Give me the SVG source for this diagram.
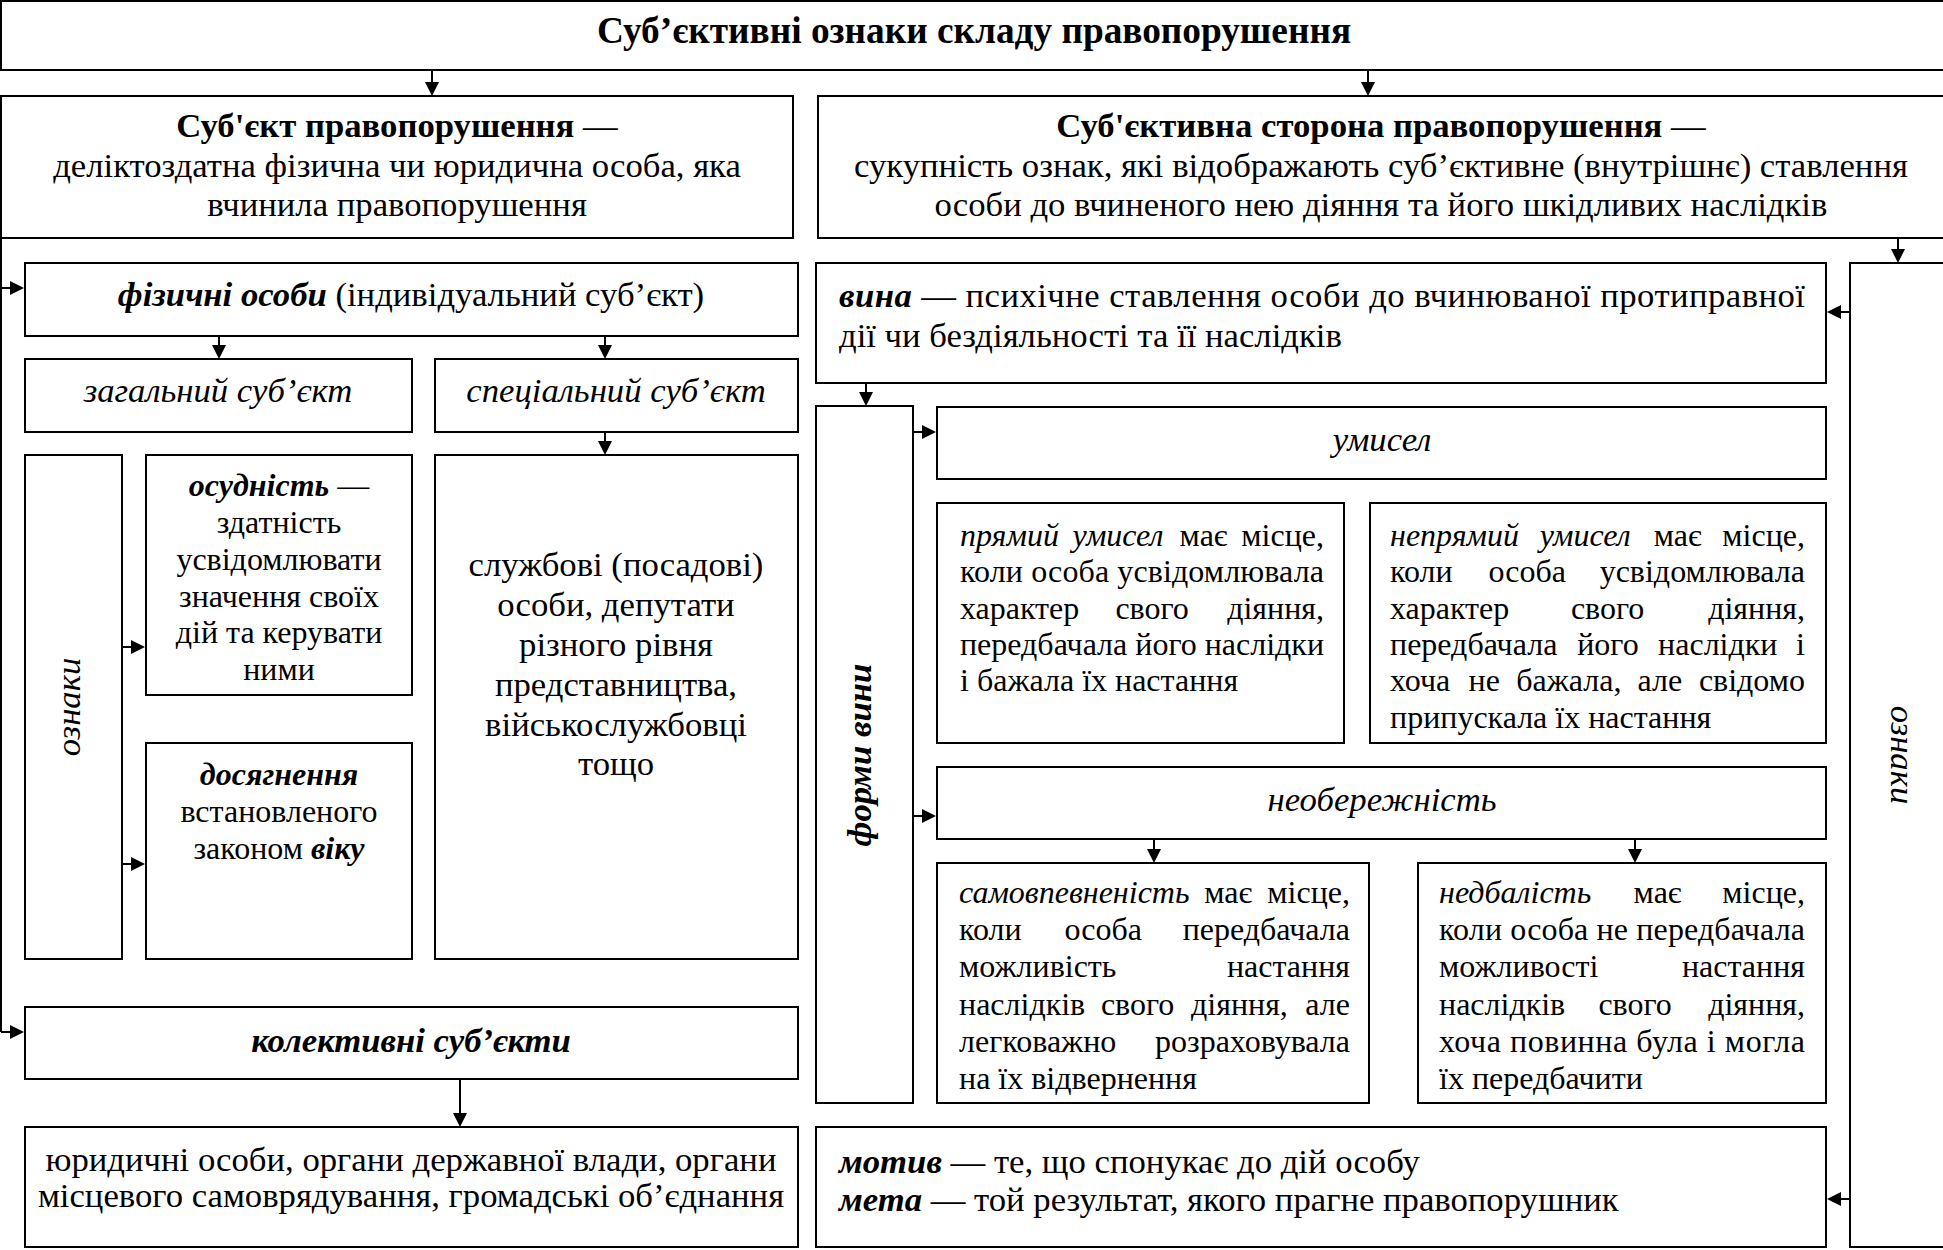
<svg xmlns="http://www.w3.org/2000/svg" width="1943" height="1250" viewBox="0 0 1943 1250">
<style>
.b{fill:#fff;stroke:#000;stroke-width:2}
text{font-family:"Liberation Serif","Times New Roman",serif;fill:#000}
.f32{font-size:32px}.f35{font-size:34.7px}
.c{text-anchor:middle}.e{text-anchor:end}
.i{font-style:italic}.w{font-weight:bold}
.ln{stroke:#000;stroke-width:2;fill:none;marker-end:url(#ah)}
.pl{stroke:#000;stroke-width:2;fill:none}
</style>
<defs>
<marker id="ah" markerUnits="userSpaceOnUse" markerWidth="14" markerHeight="14" refX="10" refY="7" orient="auto">
<path d="M0,0 L14,7 L0,14 z" fill="#000"/>
</marker>
</defs>
<rect width="1943" height="1250" fill="#fff"/>

<g id="title">
<rect class="b" x="1" y="1" width="1960" height="69"/>
<text class="w c" x="974" y="43" font-size="37.3">Суб’єктивні ознаки складу правопорушення</text>
</g>

<g id="subject">
<rect class="b" x="1" y="96" width="792" height="142"/>
<text class="f35 c" x="397" y="137"><tspan class="w">Суб'єкт правопорушення</tspan> —</text>
<text class="f35 c" x="397" y="177">деліктоздатна фізична чи юридична особа, яка</text>
<text class="f35 c" x="397" y="216">вчинила правопорушення</text>
</g>

<g id="subjective-side">
<rect class="b" x="818" y="96" width="1140" height="142"/>
<text class="f35 c" x="1381" y="137"><tspan class="w">Суб'єктивна сторона правопорушення</tspan> —</text>
<text class="f35 c" x="1381" y="177">сукупність ознак, які відображають суб’єктивне (внутрішнє) ставлення</text>
<text class="f35 c" x="1381" y="216">особи до вчиненого нею діяння та його шкідливих наслідків</text>
</g>

<g id="natural-persons">
<rect class="b" x="25" y="263" width="773" height="73"/>
<text class="f35 c" x="411" y="306"><tspan class="w i">фізичні особи</tspan> (індивідуальний суб’єкт)</text>
</g>

<g id="general-subject">
<rect class="b" x="25" y="359" width="387" height="73"/>
<text class="f35 c i" x="218" y="402">загальний суб’єкт</text>
</g>

<g id="special-subject">
<rect class="b" x="435" y="359" width="363" height="73"/>
<text class="f35 c i" x="616" y="402">спеціальний суб’єкт</text>
</g>

<g id="features-left">
<rect class="b" x="25" y="455" width="97" height="504"/>
<text class="f35 c i" x="80" y="707" transform="rotate(-90 80 707)">ознаки</text>
</g>

<g id="sanity">
<rect class="b" x="146" y="455" width="266" height="240"/>
<text class="f32 c" x="279" y="496"><tspan class="w i">осудність</tspan> —</text>
<text class="f32 c" x="279" y="533">здатність</text>
<text class="f32 c" x="279" y="570">усвідомлювати</text>
<text class="f32 c" x="279" y="607">значення своїх</text>
<text class="f32 c" x="279" y="643">дій та керувати</text>
<text class="f32 c" x="279" y="680">ними</text>
</g>

<g id="age">
<rect class="b" x="146" y="743" width="266" height="216"/>
<text class="f32 c w i" x="279" y="785">досягнення</text>
<text class="f32 c" x="279" y="822">встановленого</text>
<text class="f32 c" x="279" y="859">законом <tspan class="w i">віку</tspan></text>
</g>

<g id="officials">
<rect class="b" x="435" y="455" width="363" height="504"/>
<text class="f35 c" x="616" y="576">службові (посадові)</text>
<text class="f35 c" x="616" y="616">особи, депутати</text>
<text class="f35 c" x="616" y="656">різного рівня</text>
<text class="f35 c" x="616" y="696">представництва,</text>
<text class="f35 c" x="616" y="736">військослужбовці</text>
<text class="f35 c" x="616" y="775">тощо</text>
</g>

<g id="collective-subjects">
<rect class="b" x="25" y="1007" width="773" height="72"/>
<text class="f35 c w i" x="411" y="1052">колективні суб’єкти</text>
</g>

<g id="legal-entities">
<rect class="b" x="25" y="1127" width="773" height="120"/>
<text class="f35 c" x="411" y="1171">юридичні особи, органи державної влади, органи</text>
<text class="f35 c" x="411" y="1207">місцевого самоврядування, громадські об’єднання</text>
</g>

<g id="guilt">
<rect class="b" x="816" y="263" width="1010" height="120"/>
<text class="f35" x="839" y="307" textLength="966" lengthAdjust="spacing"><tspan class="w i">вина</tspan> — психічне ставлення особи до вчинюваної протиправної</text>
<text class="f35" x="839" y="347">дії чи бездіяльності та її наслідків</text>
</g>

<g id="forms-of-guilt">
<rect class="b" x="816" y="406" width="97" height="697"/>
<text class="f35 c w i" x="871" y="755" transform="rotate(-90 871 755)">форми вини</text>
</g>

<g id="intent">
<rect class="b" x="937" y="407" width="889" height="72"/>
<text class="f35 c i" x="1382" y="451">умисел</text>
</g>

<g id="direct-intent">
<rect class="b" x="937" y="503" width="407" height="240"/>
<text class="f32"><tspan class="i" x="960" y="546">прямий</tspan><tspan class="i" x="1072.5" y="546">умисел</tspan><tspan x="1179.6" y="546">має</tspan></text>
<text class="f32 e" x="1324" y="546">місце,</text>
<text class="f32" x="960" y="582" textLength="364" lengthAdjust="spacing">коли особа усвідомлювала</text>
<text class="f32"><tspan x="960" y="619">характер</tspan><tspan x="1115.4" y="619">свого</tspan></text>
<text class="f32 e" x="1324" y="619">діяння,</text>
<text class="f32" x="960" y="655" textLength="364" lengthAdjust="spacing">передбачала його наслідки</text>
<text class="f32" x="960" y="691">і бажала їх настання</text>
</g>

<g id="indirect-intent">
<rect class="b" x="1370" y="503" width="456" height="240"/>
<text class="f32"><tspan class="i" x="1390" y="546">непрямий</tspan><tspan class="i" x="1539.7" y="546">умисел</tspan><tspan x="1653.8" y="546">має</tspan></text>
<text class="f32 e" x="1805" y="546">місце,</text>
<text class="f32"><tspan x="1390" y="582">коли</tspan><tspan x="1488.5" y="582">особа</tspan></text>
<text class="f32 e" x="1805" y="582">усвідомлювала</text>
<text class="f32"><tspan x="1390" y="619">характер</tspan><tspan x="1570.9" y="619">свого</tspan></text>
<text class="f32 e" x="1805" y="619">діяння,</text>
<text class="f32"><tspan x="1390" y="655">передбачала</tspan><tspan x="1577.2" y="655">його</tspan><tspan x="1658.1" y="655">наслідки</tspan></text>
<text class="f32 e" x="1805" y="655">і</text>
<text class="f32"><tspan x="1390" y="691">хоча</tspan><tspan x="1468.6" y="691">не</tspan><tspan x="1516.2" y="691">бажала,</tspan><tspan x="1637.5" y="691">але</tspan></text>
<text class="f32 e" x="1805" y="691">свідомо</text>
<text class="f32" x="1390" y="728">припускала їх настання</text>
</g>

<g id="negligence">
<rect class="b" x="937" y="767" width="889" height="72"/>
<text class="f35 c i" x="1382" y="811">необережність</text>
</g>

<g id="self-confidence">
<rect class="b" x="937" y="863" width="432" height="240"/>
<text class="f32"><tspan class="i" x="959" y="903">самовпевненість</tspan><tspan x="1204.3" y="903">має</tspan></text>
<text class="f32 e" x="1350" y="903">місце,</text>
<text class="f32"><tspan x="959" y="940">коли</tspan><tspan x="1064.4" y="940">особа</tspan></text>
<text class="f32 e" x="1350" y="940">передбачала</text>
<text class="f32" x="959" y="977">можливість</text>
<text class="f32 e" x="1350" y="977">настання</text>
<text class="f32"><tspan x="959" y="1015">наслідків</tspan><tspan x="1100.9" y="1015">свого</tspan><tspan x="1191" y="1015">діяння,</tspan></text>
<text class="f32 e" x="1350" y="1015">але</text>
<text class="f32" x="959" y="1052">легковажно</text>
<text class="f32 e" x="1350" y="1052">розраховувала</text>
<text class="f32" x="959" y="1089">на їх відвернення</text>
</g>

<g id="carelessness">
<rect class="b" x="1418" y="863" width="408" height="240"/>
<text class="f32"><tspan class="i" x="1439" y="903">недбалість</tspan><tspan x="1633.6" y="903">має</tspan></text>
<text class="f32 e" x="1805" y="903">місце,</text>
<text class="f32" x="1439" y="940" textLength="366" lengthAdjust="spacing">коли особа не передбачала</text>
<text class="f32" x="1439" y="977">можливості</text>
<text class="f32 e" x="1805" y="977">настання</text>
<text class="f32"><tspan x="1439" y="1015">наслідків</tspan><tspan x="1598.4" y="1015">свого</tspan></text>
<text class="f32 e" x="1805" y="1015">діяння,</text>
<text class="f32" x="1439" y="1052" textLength="366" lengthAdjust="spacing">хоча повинна була і могла</text>
<text class="f32" x="1439" y="1089">їх передбачити</text>
</g>

<g id="motive-goal">
<rect class="b" x="816" y="1127" width="1010" height="120"/>
<text class="f35" x="839" y="1173"><tspan class="w i">мотив</tspan> — те, що спонукає до дій особу</text>
<text class="f35" x="839" y="1211"><tspan class="w i">мета</tspan> — той результат, якого прагне правопорушник</text>
</g>

<g id="features-right">
<rect class="b" x="1850" y="263" width="110" height="984"/>
<text class="f35 c i" x="1891" y="755" transform="rotate(90 1891 755)">ознаки</text>
</g>

<g id="connectors">
<line class="ln" x1="432" y1="70" x2="432" y2="92"/>
<line class="ln" x1="1368" y1="70" x2="1368" y2="92"/>
<line class="ln" x1="1898" y1="238" x2="1898" y2="259"/>
<line class="pl" x1="1" y1="238" x2="1" y2="1032"/>
<line class="ln" x1="1" y1="288" x2="20" y2="288"/>
<line class="ln" x1="1" y1="1032" x2="20" y2="1032"/>
<line class="ln" x1="219" y1="336" x2="219" y2="355"/>
<line class="ln" x1="605" y1="336" x2="605" y2="355"/>
<line class="ln" x1="605" y1="432" x2="605" y2="451"/>
<line class="ln" x1="122" y1="647" x2="141" y2="647"/>
<line class="ln" x1="122" y1="864" x2="141" y2="864"/>
<line class="ln" x1="460" y1="1079" x2="460" y2="1123"/>
<line class="ln" x1="866" y1="383" x2="866" y2="402"/>
<line class="ln" x1="913" y1="432" x2="932" y2="432"/>
<line class="ln" x1="913" y1="816" x2="932" y2="816"/>
<line class="ln" x1="1154" y1="839" x2="1154" y2="859"/>
<line class="ln" x1="1635" y1="839" x2="1635" y2="859"/>
<line class="ln" x1="1850" y1="312" x2="1831" y2="312"/>
<line class="ln" x1="1850" y1="1199" x2="1831" y2="1199"/>
</g>
</svg>
